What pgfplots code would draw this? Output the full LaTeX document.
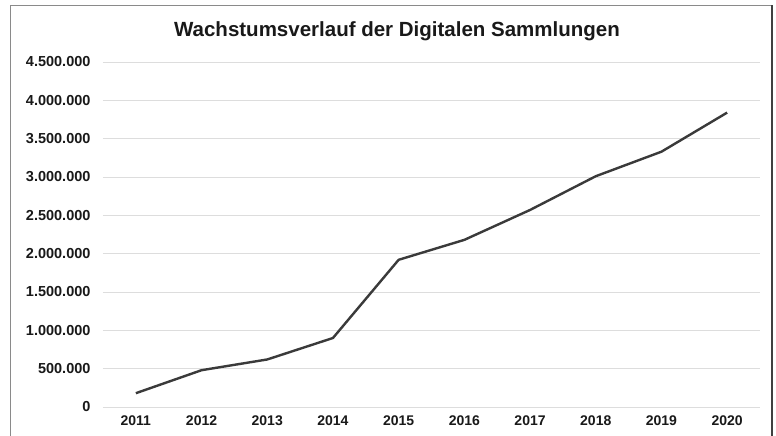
\documentclass[border=0pt]{standalone}
\usepackage{pgfplots}
\pgfplotsset{compat=1.18}
\usepackage{fontspec}
\setmainfont{Liberation Sans}
\definecolor{linec}{HTML}{3A3A3A}
\definecolor{gridc}{HTML}{DDDDDD}
\definecolor{framec}{HTML}{8A8A8A}
\begin{document}
\begin{tikzpicture}[x=1pt,y=1pt]
\useasboundingbox (0,0) rectangle (776,436);
\fill[white] (0,0) rectangle (776,436);
\draw[framec, line width=1.5pt] (10.5,-5) -- (10.5,430.5) -- (772,430.5);
\draw[black!75, line width=1.5pt] (772,430.5) -- (772,-5);
\begin{axis}[
  at={(103pt,29pt)}, anchor=south west,
  scale only axis, width=657pt, height=345pt,
  xmin=2010.5, xmax=2020.5, ymin=0, ymax=4500000,
  scaled y ticks=false,
  xtick={2011,2012,2013,2014,2015,2016,2017,2018,2019,2020},
  xticklabels={2011,2012,2013,2014,2015,2016,2017,2018,2019,2020},
  ytick={0,500000,1000000,1500000,2000000,2500000,3000000,3500000,4000000,4500000},
  yticklabels={0,500.000,1.000.000,1.500.000,2.000.000,2.500.000,3.000.000,3.500.000,4.000.000,4.500.000},
  xticklabel style={font=\fontsize{14}{15}\selectfont\bfseries, color=black!90, yshift=-5pt},
  yticklabel style={font=\fontsize{14.5}{15}\selectfont\bfseries, color=black!90, xshift=-9pt},
  axis line style={draw=none},
  major tick length=0pt,
  ymajorgrids, grid style={gridc, line width=0.8pt},
  clip=false,
]
\addplot[linec, line width=2.4pt, line join=round] coordinates {
(2011,180000) (2012,480000) (2013,620000) (2014,900000) (2015,1920000)
(2016,2180000) (2017,2570000) (2018,3010000) (2019,3330000) (2020,3840000)};
\end{axis}
\node[font=\fontsize{20.5}{22}\selectfont\bfseries, color=black!90] at (397,405) {Wachstumsverlauf der Digitalen Sammlungen};
\end{tikzpicture}
\end{document}
